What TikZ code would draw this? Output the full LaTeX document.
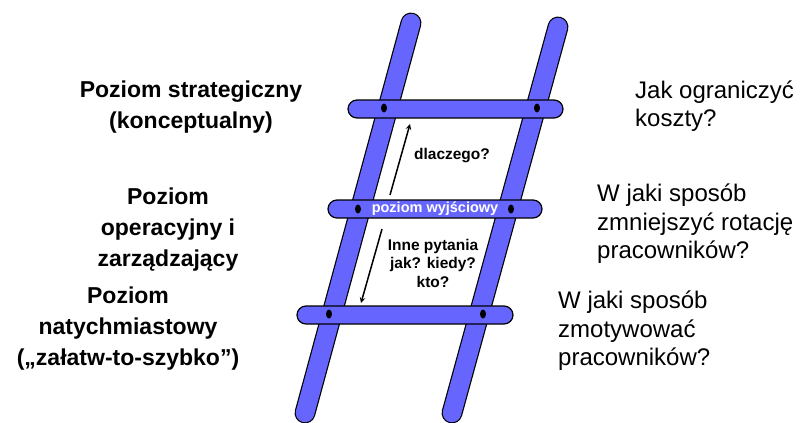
\documentclass[tikz,border=0pt]{standalone}
\usepackage{fontspec}
\setmainfont{Liberation Sans}
\usepackage{tikz}
\usetikzlibrary{shapes.geometric, arrows, positioning}
\definecolor{ladder}{RGB}{102,102,255}

\begin{document}
\begin{tikzpicture}[x=1pt, y=-1pt, rail/.style={draw=black, line width=1.2pt, double=ladder, double distance=18.5pt, line cap=round}, rung/.style={rectangle, draw, fill=ladder, rounded corners=9pt, minimum height=18pt, line width=1.2pt, inner sep=0pt, text=white, font=\bfseries\fontsize{14.5}{16}\selectfont}, peg/.style={ellipse, fill=black, minimum width=6pt, minimum height=9pt, inner sep=0pt}, level/.style={align=center, inner sep=0pt, font=\bfseries\fontsize{23}{31}\selectfont}, question/.style={align=left, anchor=west, inner sep=0pt, font=\fontsize{24}{28.5}\selectfont}, note/.style={align=center, inner sep=0pt, font=\bfseries\fontsize{15.5}{18.5}\selectfont}, arrow/.style={->, >=stealth, line width=1.5pt}]
\useasboundingbox (0,0) rectangle (809,423);
% ladder
\draw[rail] (411,23) -- (305,413);
\draw[rail] (558,27) -- (452,413);
\node[rung, minimum width=215pt] (top) at (455.5,109) {};
\node[rung, minimum width=214pt] (mid) at (435,209) {poziom wyjściowy};
\node[rung, minimum width=216pt] (low) at (405,315) {};
\node[peg] (topL) at (384,108) {}; \node[peg] (topR) at (537,108) {};
\node[peg] (midL) at (358,209) {}; \node[peg] (midR) at (511,209) {};
\node[peg] (lowL) at (329,314) {}; \node[peg] (lowR) at (483,314) {};
% questions on the ladder
\coordinate (upS) at (390,195); \coordinate (upE) at (410,124);
\coordinate (downS) at (382,229); \coordinate (downE) at (361,303);
\draw[arrow] (upS) -- (upE);
\draw[arrow] (downS) -- (downE);
\node[note] (why) at (452,156) {dlaczego?};
\node[note] (other) at (433,263) {Inne pytania\\jak? kiedy?\\kto?};
% levels
\node[level] (strat) at (191,107) {Poziom strategiczny\\(konceptualny)};
\node[level] (oper) at (168,230) {Poziom\\operacyjny i\\zarządzający};
\node[level] (nat) at (128,329) {Poziom\\natychmiastowy\\(„załatw-to-szybko”)};
\node[question] (costs) at (635,106) {Jak ograniczyć\\koszty?};
\node[question] (turnover) at (597,224) {W jaki sposób\\zmniejszyć rotację\\pracowników?};
\node[question] (motivate) at (558,331) {W jaki sposób\\zmotywować\\pracowników?};
\end{tikzpicture}
\end{document}
